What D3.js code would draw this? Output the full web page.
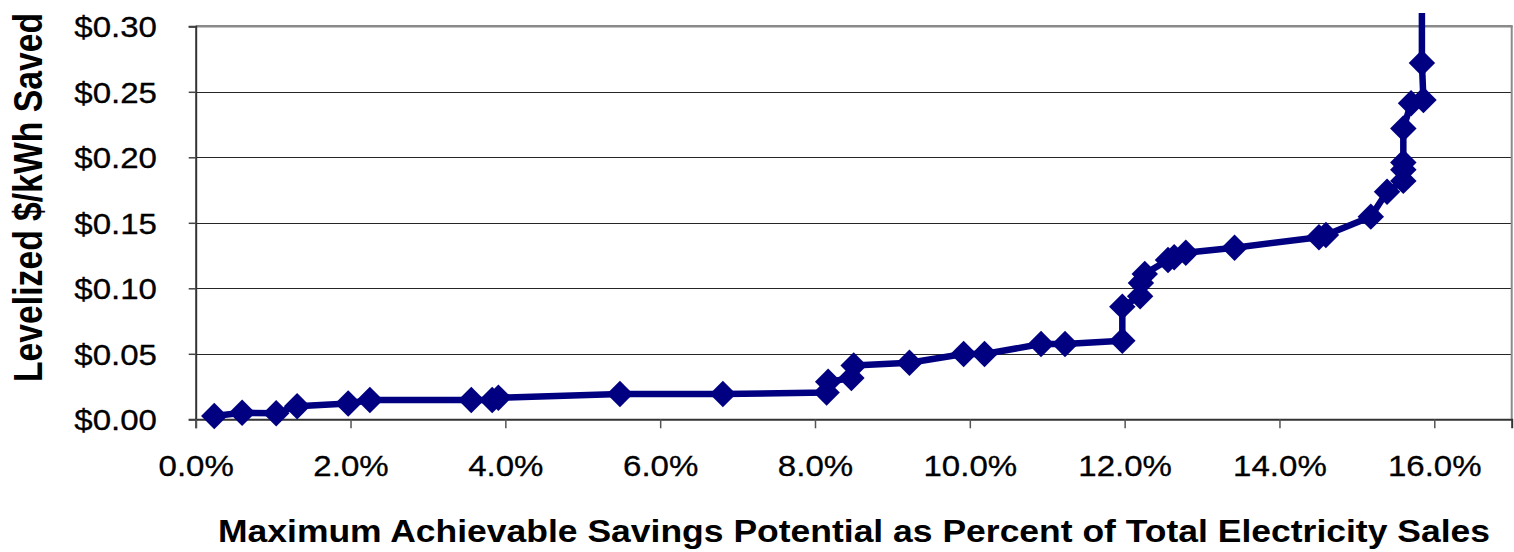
<!DOCTYPE html>
<html>
<head>
<meta charset="utf-8">
<script src="https://cdn.jsdelivr.net/npm/d3@7"></script>
<style>
  html, body { margin: 0; padding: 0; background: #fff; }
  svg { display: block; }
  text { font-family: "Liberation Sans", Arial, sans-serif; fill: #000; }
</style>
</head>
<body>
<svg id="chart" width="1514" height="552"></svg>
<script>
// Savings potential (% of total electricity sales, cumulative) and levelized cost ($/kWh saved)
const savingsPct = [0.24, 0.60, 1.04, 1.31, 1.97, 2.25, 3.56, 3.83, 3.91, 5.48,
                    6.81, 8.15, 8.17, 8.47, 8.50, 9.22, 9.92, 10.19, 10.92, 11.23,
                    11.97, 11.97, 12.20, 12.21, 12.26, 12.56, 12.64, 12.79, 13.42, 14.51,
                    14.60, 15.18, 15.39, 15.60, 15.60, 15.60, 15.60, 15.70, 15.86, 15.84, 15.84];
const costPerKWh = [0.0025, 0.0050, 0.0046, 0.0100, 0.0120, 0.0147, 0.0147, 0.0148, 0.0165, 0.0193,
                    0.0193, 0.0205, 0.0286, 0.0315, 0.0410, 0.0432, 0.0498, 0.0498, 0.0575, 0.0575,
                    0.0600, 0.0860, 0.0940, 0.1040, 0.1110, 0.1216, 0.1237, 0.1272, 0.1310, 0.1390,
                    0.1407, 0.1547, 0.1737, 0.1820, 0.1905, 0.1960, 0.2220, 0.2412, 0.2437, 0.2720, 0.4000];
const xTicks = [0, 0.02, 0.04, 0.06, 0.08, 0.10, 0.12, 0.14, 0.16];
const yTicks = [0, 0.05, 0.10, 0.15, 0.20, 0.25, 0.30];
const xTitle = "Maximum Achievable Savings Potential as Percent of Total Electricity Sales";
const yTitle = "Levelized $/kWh Saved";

const data = savingsPct.map((p, i) => ({ x: p / 100, y: costPerKWh[i] }));

const svg = d3.select("#chart");
const L = 195.7, R = 1511.7, T = 26.3, B = 419.3;
const x = d3.scaleLinear().domain([0, 0.17]).range([L, R]);
const y = d3.scaleLinear().domain([0, 0.30]).range([B, T]);
const SX = 1.14; // horizontal glyph stretch

// gridlines
svg.append("g").selectAll("line")
  .data(yTicks.filter(v => v > 0 && v < 0.30))
  .join("line")
  .attr("x1", L).attr("x2", R)
  .attr("y1", d => Math.round(y(d)) + 0.5).attr("y2", d => Math.round(y(d)) + 0.5)
  .attr("stroke", "#262626").attr("stroke-width", 1);

// plot border (top & right gray)
svg.append("line").attr("x1", L).attr("x2", R + 1).attr("y1", T).attr("y2", T)
  .attr("stroke", "#8a8a8a").attr("stroke-width", 2.5);
svg.append("line").attr("x1", R).attr("x2", R).attr("y1", T).attr("y2", B)
  .attr("stroke", "#8a8a8a").attr("stroke-width", 2);

// Y axis
const yAxis = svg.append("g").attr("transform", `translate(${L},0)`)
  .call(d3.axisLeft(y).tickValues(yTicks).tickSize(7).tickFormat(d => "$" + d.toFixed(2)));
yAxis.select(".domain").attr("stroke", "#333").attr("stroke-width", 2);
yAxis.selectAll(".tick line").attr("stroke", "#444").attr("stroke-width", 1.5);
yAxis.selectAll(".tick text")
  .attr("x", -34).attr("dy", "0.36em")
  .attr("transform", `scale(${SX},1)`)
  .style("font-size", "29px").attr("fill", "#000")
  .attr("stroke", "#000").attr("stroke-width", 0.3);

// X axis
const xAxis = svg.append("g").attr("transform", `translate(0,${B})`)
  .call(d3.axisBottom(x).tickValues(xTicks).tickSize(9).tickFormat(d3.format(".1%")));
xAxis.select(".domain").attr("stroke", "#333").attr("stroke-width", 2);
xAxis.selectAll(".tick line").attr("stroke", "#555").attr("stroke-width", 1.5);
xAxis.selectAll(".tick text")
  .attr("y", 57).attr("dy", 0)
  .attr("transform", `scale(${SX},1)`)
  .style("font-size", "29px").attr("fill", "#000")
  .attr("stroke", "#000").attr("stroke-width", 0.3);

// clip (line extends a bit above plot, to chart edge)
svg.append("clipPath").attr("id", "clip")
  .append("rect").attr("x", 0).attr("y", 13).attr("width", 1514).attr("height", 552);

const g = svg.append("g").attr("clip-path", "url(#clip)");
g.append("path")
  .datum(data)
  .attr("fill", "none")
  .attr("stroke", "#000080")
  .attr("stroke-width", 6.5)
  .attr("stroke-linejoin", "round")
  .attr("d", d3.line().x(d => x(d.x)).y(d => y(d.y)));

const sym = d3.symbol(d3.symbolSquare, 350);
g.selectAll("path.mk")
  .data(data.filter(d => d.y <= 0.30))
  .join("path")
  .attr("class", "mk")
  .attr("d", sym)
  .attr("transform", d => `translate(${x(d.x)},${y(d.y)}) rotate(45)`)
  .attr("fill", "#000080");

// Axis titles
svg.append("text")
  .attr("transform", `translate(${(218 + 1490) / 2},542) scale(${SX},1)`)
  .attr("text-anchor", "middle")
  .attr("textLength", 1272 / SX)
  .attr("lengthAdjust", "spacingAndGlyphs")
  .style("font-size", "31px").style("font-weight", "bold")
  .text(xTitle);

svg.append("text")
  .attr("transform", `translate(42,197.5) scale(${SX},1) rotate(-90)`)
  .attr("text-anchor", "middle")
  .attr("textLength", 369)
  .attr("lengthAdjust", "spacingAndGlyphs")
  .style("font-size", "35px").style("font-weight", "bold")
  .text(yTitle);
</script>
</body>
</html>
